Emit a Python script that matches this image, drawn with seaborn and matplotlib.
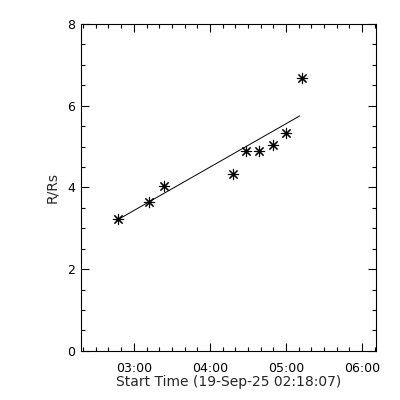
import matplotlib
matplotlib.use("Agg")
import matplotlib.pyplot as plt
import matplotlib.dates as mdates
import seaborn as sns
import pandas as pd
import numpy as np

sns.set_style("white")
plt.rcParams['font.family'] = ['DejaVu Sans']

start_time = "2025-09-19 02:18:07"
end_time = "2025-09-19 06:11:00"
times = ["02:47:50", "03:12:20", "03:24:00", "04:17:50", "04:28:25",
         "04:39:00", "04:49:40", "05:00:15", "05:12:35"]
heights = [3.22, 3.64, 4.04, 4.32, 4.89, 4.90, 5.04, 5.33, 6.68]
fit_times = ["02:46:15", "05:10:50"]
fit_heights = [3.19, 5.75]

df = pd.DataFrame({"t": pd.to_datetime(["2025-09-19 " + t for t in times]), "h": heights})
fit = pd.DataFrame({"t": pd.to_datetime(["2025-09-19 " + t for t in fit_times]), "h": fit_heights})

fig = plt.figure(figsize=(4, 4), dpi=100)
ax = fig.add_axes([0.2018, 0.123, 0.94 - 0.2018, 0.94 - 0.123])

sns.lineplot(data=fit, x="t", y="h", ax=ax, color="black", linewidth=0.7)
sns.scatterplot(data=df, x="t", y="h", ax=ax, marker=(8, 2, 0), s=55,
                color="black", linewidth=0.8, edgecolor="black")

ax.set_xlim(pd.Timestamp(start_time), pd.Timestamp(end_time))
ax.set_ylim(0, 8)
ax.xaxis.set_major_locator(mdates.HourLocator())
ax.xaxis.set_minor_locator(mdates.MinuteLocator(byminute=[10, 20, 30, 40, 50]))
ax.xaxis.set_major_formatter(mdates.DateFormatter("%H:%M"))
ax.set_yticks([0, 2, 4, 6, 8])
ax.set_yticks(np.arange(0, 8.01, 0.5), minor=True)

ax.tick_params(which="both", direction="in", top=True, right=True, bottom=True, left=True,
               colors="black", labelsize=9, width=0.8)
ax.tick_params(which="major", length=6, pad=4)
ax.tick_params(axis="x", which="major", pad=8)
ax.tick_params(which="minor", length=3)
for s in ax.spines.values():
    s.set_color("black")
    s.set_linewidth(0.8)

ax.set_xlabel("Start Time (19-Sep-25 02:18:07)", fontsize=10, labelpad=0)
ax.set_ylabel("R/Rs", fontsize=10, labelpad=6)

fig.savefig("out.png", dpi=100, facecolor="white")
